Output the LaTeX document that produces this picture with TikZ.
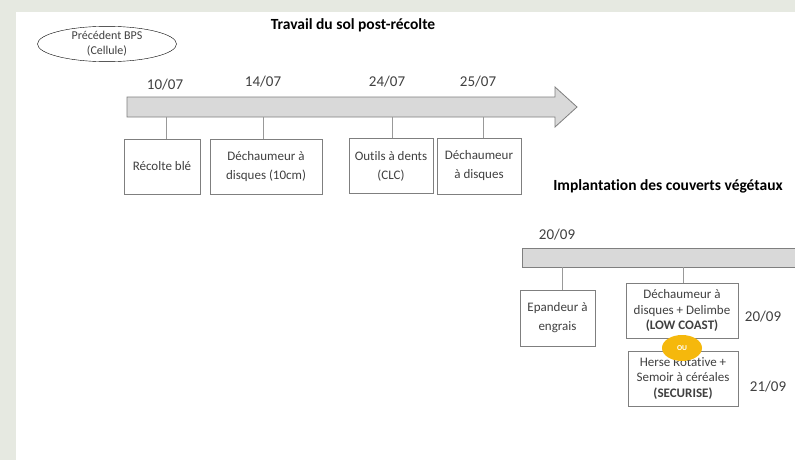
\documentclass[tikz,border=0pt]{standalone}
\usepackage{fontspec}
\setmainfont{Carlito}[Ligatures={NoCommon}]
\usetikzlibrary{shapes.geometric}
\definecolor{txtgray}{HTML}{404040}
\definecolor{linegray}{HTML}{7F7F7F}
\definecolor{barfill}{HTML}{D9D9D9}
\definecolor{ougold}{HTML}{F5B80C}
\definecolor{backdrop}{HTML}{E6E9E1}
\begin{document}
\begin{tikzpicture}[x=1pt, y=-1pt,
  evtbox/.style={draw=linegray, fill=white, align=center, text=txtgray, font=\fontsize{13}{15.5}\selectfont, inner sep=1pt},
  datelbl/.style={text=txtgray, font=\fontsize{15}{17}\selectfont},
  titlelbl/.style={font=\fontsize{15.5}{18}\selectfont\bfseries},
  tickline/.style={draw=linegray!80, line width=0.6pt}]
\useasboundingbox (0,0) rectangle (795,460);
\fill[backdrop] (0,0) rectangle (795,460);
\fill[white] (16,12) rectangle (795,460);

\node[draw, ellipse, align=center, minimum width=139, minimum height=33, inner sep=0pt, text=txtgray, font=\fontsize{12}{15}\selectfont] (prev) at (107,44) {Précédent BPS\\(Cellule)};
\node[titlelbl] (t1) at (353,25) {Travail du sol post-récolte};

% frise 1
\draw[linegray, fill=barfill, line width=0.8pt] (127,97) -- (555,97) -- (555,87) -- (577,107) -- (555,127) -- (555,117) -- (127,117) -- cycle;
\node[datelbl] (d1) at (165,85) {10/07};
\node[datelbl] (d2) at (263,82) {14/07};
\node[datelbl] (d3) at (387,82) {24/07};
\node[datelbl] (d4) at (478,82) {25/07};
\node[evtbox, minimum width=76, minimum height=55] (recolte) at (162,166.5) {Récolte blé};
\node[evtbox, minimum width=112, minimum height=55] (dech1) at (266,166.5) {Déchaumeur à\\[3.5pt]disques (10cm)};
\node[evtbox, minimum width=84, minimum height=55] (outils) at (391,166) {Outils à dents\\[3.5pt](CLC)};
\node[evtbox, minimum width=84, minimum height=56] (dech2) at (479,166) {Déchaumeur\\[3.5pt]à disques};
\coordinate (k1) at (166,117);
\coordinate (k2) at (263,117);
\coordinate (k3) at (392,117);
\coordinate (k4) at (483,117);
\draw[tickline] (k1) -- (k1 |- recolte.north);
\draw[tickline] (k2) -- (k2 |- dech1.north);
\draw[tickline] (k3) -- (k3 |- outils.north);
\draw[tickline] (k4) -- (k4 |- dech2.north);

% frise 2
\node[titlelbl] (t2) at (668,186) {Implantation des couverts végétaux};
\fill[barfill] (522,248) rectangle (796,267);
\draw[linegray, line width=0.8pt] (796,248) -- (522,248) -- (522,267) -- (796,267);
\node[datelbl] (d5) at (557,235) {20/09};
\node[evtbox, minimum width=75, minimum height=56] (epand) at (557.5,318) {Epandeur à\\[3.5pt]engrais};
\node[evtbox, minimum width=112, minimum height=55] (lowc) at (682,310.5) {Déchaumeur à\\disques + Delimbe\\\textbf{(LOW COAST)}};
\node[evtbox, minimum width=110, minimum height=55] (herse) at (683,378.5) {Herse Rotative +\\Semoir à céréales\\\textbf{(SECURISE)}};
\coordinate (k5) at (562,267);
\coordinate (k6) at (683,267);
\draw[tickline] (k5) -- (k5 |- epand.north);
\draw[tickline] (k6) -- (k6 |- lowc.north);
\node[datelbl] (d6) at (763,317) {20/09};
\node[datelbl] (d7) at (768,387) {21/09};
\node[ellipse, fill=ougold, minimum width=40, minimum height=26, inner sep=0pt, text=white, font=\fontsize{7.5}{8}\selectfont\bfseries] (ou) at (682,348) {OU};
\end{tikzpicture}
\end{document}
